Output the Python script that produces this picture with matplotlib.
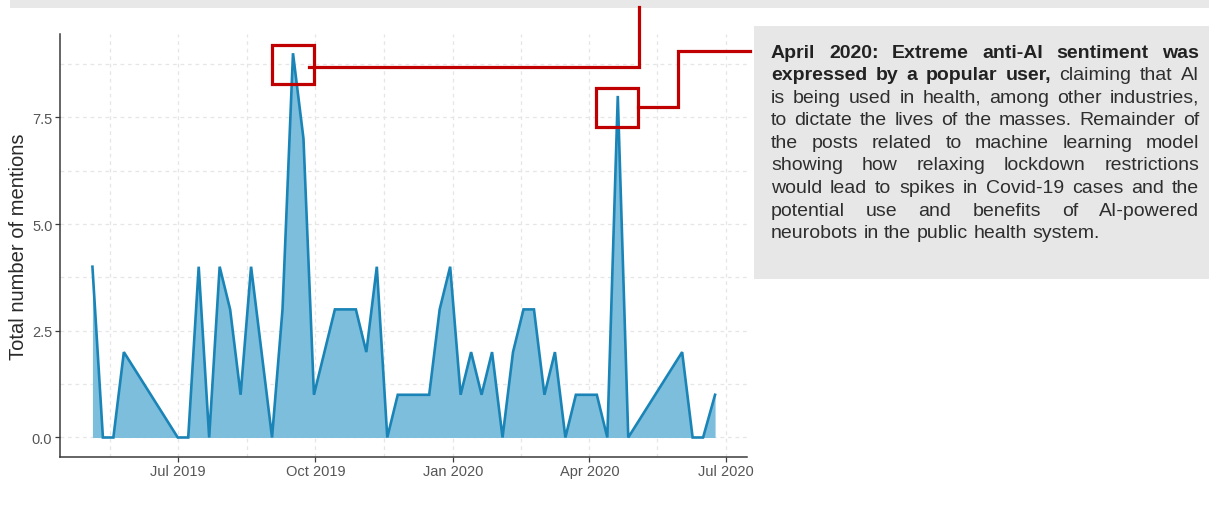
import matplotlib
matplotlib.use("Agg")
import matplotlib.pyplot as plt
import matplotlib.dates as mdates
from matplotlib import font_manager
from matplotlib.patches import Rectangle
from matplotlib.lines import Line2D
import pandas as pd

# weekly mention counts
week_start = ["2019-05-05", "2019-05-12", "2019-05-19", "2019-05-26", "2019-07-01",
              "2019-07-08", "2019-07-15", "2019-07-22", "2019-07-29", "2019-08-05",
              "2019-08-12", "2019-08-19", "2019-09-02", "2019-09-09", "2019-09-16",
              "2019-09-23", "2019-09-30", "2019-10-14", "2019-10-28", "2019-11-04",
              "2019-11-11", "2019-11-18", "2019-11-25", "2019-12-16", "2019-12-23",
              "2019-12-30", "2020-01-06", "2020-01-13", "2020-01-20", "2020-01-27",
              "2020-02-03", "2020-02-10", "2020-02-17", "2020-02-24", "2020-03-02",
              "2020-03-09", "2020-03-16", "2020-03-23", "2020-04-06", "2020-04-13",
              "2020-04-20", "2020-04-27", "2020-06-02", "2020-06-09", "2020-06-16",
              "2020-06-24"]
mentions = [4, 0, 0, 2, 0,
            0, 4, 0, 4, 3,
            1, 4, 0, 3, 9,
            7, 1, 3, 3, 2,
            4, 0, 1, 1, 3,
            4, 1, 2, 1, 2,
            0, 2, 3, 3, 1,
            2, 0, 1, 1, 0,
            8, 0, 2, 0, 0,
            1]

x_breaks = ["2019-04-01", "2019-07-01", "2019-10-01", "2020-01-01", "2020-04-01", "2020-07-01"]
y_breaks = [0.0, 2.5, 5.0, 7.5]

box_lines = [
    [("April", True), ("2020:", True), ("Extreme", True), ("anti-AI", True),
     ("sentiment", True), ("was", True)],
    [("expressed", True), ("by", True), ("a", True), ("popular", True), ("user,", True),
     ("claiming", False), ("that", False), ("AI", False)],
    [(w, False) for w in "is being used in health, among other industries,".split()],
    [(w, False) for w in "to dictate the lives of the masses. Remainder of".split()],
    [(w, False) for w in "the posts related to machine learning model".split()],
    [(w, False) for w in "showing how relaxing lockdown restrictions".split()],
    [(w, False) for w in "would lead to spikes in Covid-19 cases and the".split()],
    [(w, False) for w in "potential use and benefits of AI-powered".split()],
    [(w, False) for w in "neurobots in the public health system.".split()],
]

W, H = 1209, 506
names = {f.name for f in font_manager.fontManager.ttflist}
base_font = "Liberation Sans"
tick_font = "Liberation Sans Narrow" if "Liberation Sans Narrow" in names else base_font
plt.rcParams["font.family"] = base_font


def px(x, y):
    return x / W, 1 - y / H


fig = plt.figure(figsize=(W / 100, H / 100), dpi=100)
fig.patch.set_facecolor("white")

ax_l, ax_r, ax_t, ax_b = 60, 747, 35, 457.7
ax = fig.add_axes([ax_l / W, 1 - ax_b / H, (ax_r - ax_l) / W, (ax_b - ax_t) / H])

dates = pd.to_datetime(week_start)
ax.fill_between(dates, 0, mentions, color="#7dbedd", lw=0, zorder=2)
ax.plot(dates, mentions, color="#1a84b7", lw=1.9, zorder=3, solid_joinstyle="miter")

ax.set_xlim(pd.Timestamp("2019-04-13 08:00"), pd.Timestamp("2020-07-15 08:00"))
ax.set_ylim(-0.45, 9.45)

majors = pd.to_datetime(x_breaks)
minors = [majors[i] + (majors[i + 1] - majors[i]) / 2 for i in range(len(majors) - 1)]
ax.set_xticks(majors[1:])
ax.xaxis.set_major_formatter(mdates.DateFormatter("%b %Y"))
ax.set_xticks(minors, minor=True)
ax.set_yticks(y_breaks)
ax.set_yticklabels([f"{v:.1f}" for v in y_breaks])
ax.set_yticks([v + 1.25 for v in y_breaks], minor=True)

grid_kw = dict(color="#e6e6e6", lw=0.9, ls=(0, (3, 3)))
ax.grid(True, which="both", **grid_kw)
ax.set_axisbelow(True)

for s in ["top", "right"]:
    ax.spines[s].set_visible(False)
for s in ["left", "bottom"]:
    ax.spines[s].set_color("#3a3a3a")
    ax.spines[s].set_linewidth(1.1)
ax.tick_params(which="major", length=3.5, width=0.9, color="#3a3a3a",
               labelcolor="#555555", labelsize=10.5, pad=2)
ax.tick_params(which="minor", length=0)
for lab in ax.get_xticklabels() + ax.get_yticklabels():
    lab.set_fontfamily(tick_font)

ax.set_ylabel("Total number of mentions", fontsize=14.5, color="#2a2a2a")
ax.yaxis.set_label_coords(-0.047, 0.5)

# top grey band and commentary box
fig.add_artist(Rectangle(px(10, 8.5), (W - 10) / W, 8.5 / H,
                         transform=fig.transFigure, color="#e8e8e8", lw=0, zorder=0))
fig.add_artist(Rectangle(px(754, 279.5), (W - 754) / W, (279.5 - 26.5) / H,
                         transform=fig.transFigure, color="#e7e7e7", lw=0, zorder=0))

# red call-outs
red = "#c00000"
for x0, y0, x1, y1 in [(272, 45.7, 314, 85.3), (596, 89, 638, 128)]:
    fig.add_artist(Rectangle(px(x0, y1), (x1 - x0) / W, (y1 - y0) / H,
                             transform=fig.transFigure, fill=False, ec=red, lw=2.3,
                             joinstyle="miter", zorder=5))
for xs, ys in [([309, 639, 639], [67.7, 67.7, 7.5]),
               ([638, 678, 678, 750], [108.3, 108.3, 52.3, 52.3])]:
    fig.add_artist(Line2D([x / W for x in xs], [1 - y / H for y in ys],
                          transform=fig.transFigure, color=red, lw=2.3,
                          solid_joinstyle="miter", zorder=5))

# justified paragraph
renderer = fig.canvas.get_renderer()
left, right = 771, 1199
base0, step = 57.5, 22.6
for i, line in enumerate(box_lines):
    texts = []
    for word, bold in line:
        t = fig.text(0, 0, word, fontsize=14, color="#222222" if bold else "#2e2e2e",
                     fontweight="bold" if bold else "normal", va="baseline")
        texts.append(t)
    widths = [t.get_window_extent(renderer).width for t in texts]
    if i < len(box_lines) - 1:
        gap = (right - left - sum(widths)) / (len(texts) - 1)
    else:
        gap = 14 * 100 / 72 * 0.278
    x = left
    yb = base0 + step * i
    for t, w in zip(texts, widths):
        t.set_position(px(x, yb))
        x += w + gap

fig.savefig("out.png", dpi=100)
